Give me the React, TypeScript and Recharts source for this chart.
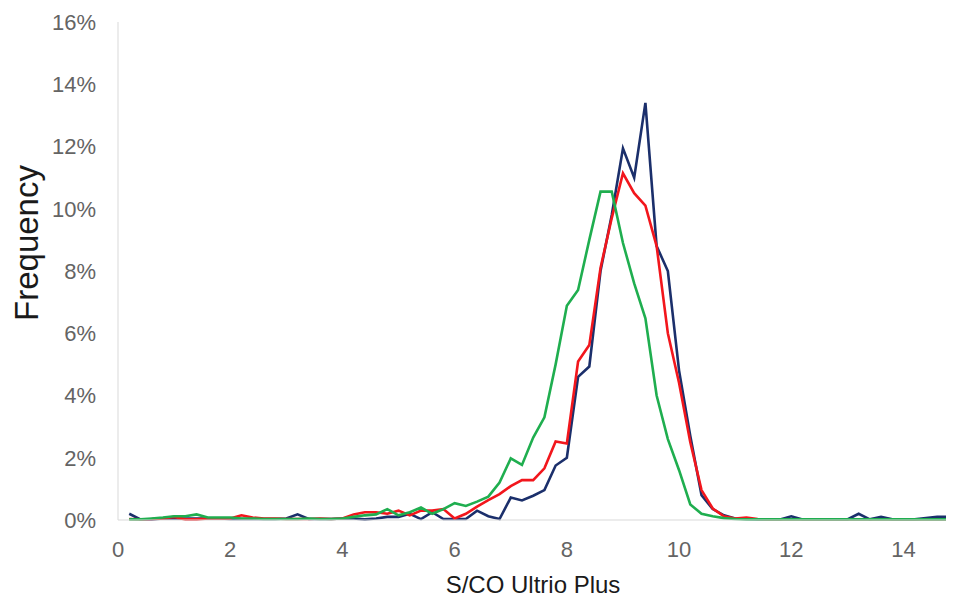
import React from 'react';
import { LineChart, Line, XAxis, YAxis, Label } from 'recharts';

// S/CO bin centres (step 0.2)
const scoBins = [
  0.2, 0.4, 0.6, 0.8, 1.0, 1.2, 1.4, 1.6, 1.8, 2.0,
  2.2, 2.4, 2.6, 2.8, 3.0, 3.2, 3.4, 3.6, 3.8, 4.0,
  4.2, 4.4, 4.6, 4.8, 5.0, 5.2, 5.4, 5.6, 5.8, 6.0,
  6.2, 6.4, 6.6, 6.8, 7.0, 7.2, 7.4, 7.6, 7.8, 8.0,
  8.2, 8.4, 8.6, 8.8, 9.0, 9.2, 9.4, 9.6, 9.8, 10.0,
  10.2, 10.4, 10.6, 10.8, 11.0, 11.2, 11.4, 11.6, 11.8, 12.0,
  12.2, 12.4, 12.6, 12.8, 13.0, 13.2, 13.4, 13.6, 13.8, 14.0,
  14.2, 14.4, 14.6, 14.8,
];

// Frequency (%) per bin
const navySeries = [
  0.20, 0.02, 0.02, 0.05, 0.05, 0.05, 0.05, 0.05, 0.05, 0.03,
  0.03, 0.03, 0.03, 0.03, 0.05, 0.18, 0.03, 0.03, 0.03, 0.05,
  0.05, 0.02, 0.05, 0.10, 0.10, 0.20, 0.03, 0.25, 0.03, 0.03,
  0.03, 0.30, 0.12, 0.03, 0.72, 0.63, 0.78, 0.96, 1.75, 2.00,
  4.60, 4.93, 8.00, 9.80, 11.94, 11.00, 13.40, 8.80, 8.00, 4.80,
  2.70, 0.80, 0.35, 0.15, 0.05, 0.03, 0.02, 0.02, 0.02, 0.12,
  0.02, 0.02, 0.02, 0.02, 0.02, 0.20, 0.02, 0.10, 0.02, 0.02,
  0.02, 0.06, 0.10, 0.10,
];

const redSeries = [
  0.03, 0.02, 0.03, 0.05, 0.10, 0.02, 0.02, 0.05, 0.05, 0.05,
  0.15, 0.08, 0.05, 0.05, 0.03, 0.03, 0.03, 0.05, 0.03, 0.05,
  0.18, 0.25, 0.25, 0.20, 0.30, 0.15, 0.30, 0.30, 0.35, 0.05,
  0.20, 0.43, 0.64, 0.83, 1.09, 1.28, 1.28, 1.66, 2.52, 2.46,
  5.09, 5.62, 8.10, 9.70, 11.14, 10.50, 10.10, 8.80, 6.00, 4.40,
  2.50, 0.96, 0.37, 0.12, 0.05, 0.08, 0.03, 0.02, 0.02, 0.02,
  0.02, 0.02, 0.02, 0.02, 0.02, 0.02, 0.02, 0.02, 0.02, 0.02,
  0.02, 0.02, 0.02, 0.02,
];

const greenSeries = [
  0.02, 0.02, 0.05, 0.08, 0.12, 0.12, 0.18, 0.08, 0.08, 0.08,
  0.05, 0.05, 0.03, 0.03, 0.03, 0.03, 0.05, 0.03, 0.03, 0.05,
  0.10, 0.15, 0.18, 0.35, 0.15, 0.25, 0.40, 0.20, 0.35, 0.54,
  0.45, 0.59, 0.75, 1.20, 1.98, 1.77, 2.65, 3.30, 5.00, 6.88,
  7.39, 9.00, 10.55, 10.55, 8.90, 7.60, 6.48, 4.00, 2.60, 1.60,
  0.50, 0.20, 0.12, 0.06, 0.03, 0.02, 0.02, 0.02, 0.02, 0.02,
  0.02, 0.02, 0.02, 0.02, 0.02, 0.02, 0.02, 0.02, 0.02, 0.02,
  0.02, 0.02, 0.02, 0.02,
];

const xTicks = [0, 2, 4, 6, 8, 10, 12, 14];
const yTicks = [0, 2, 4, 6, 8, 10, 12, 14, 16];

const rows = scoBins.map((x, i) => ({
  x,
  navy: navySeries[i],
  red: redSeries[i],
  green: greenSeries[i],
}));

const FONT = 'Arial, "Liberation Sans", Helvetica, sans-serif';
const AXIS_GREY = '#d9d9d9';
const TICK_GREY = '#646464';

export default function App() {
  return (
    <div style={{ width: 946, height: 593, fontFamily: FONT }}>
      <LineChart
        width={946}
        height={593}
        data={rows}
        margin={{ top: 14, right: 0, bottom: 0, left: 0 }}
      >
        <XAxis
          dataKey="x"
          type="number"
          domain={[0, 14.9]}
          ticks={xTicks}
          allowDataOverflow
          height={81}
          stroke={AXIS_GREY}
          tickLine={false}
          tickMargin={15}
          tick={{ fill: TICK_GREY, fontSize: 22, fontFamily: FONT }}
        >
          <Label
            content={() => (
              <text
                x={525}
                y={585}
                textAnchor="middle"
                fill="#1a1a1a"
                fontSize={24}
                fontFamily={FONT}
              >
                S/CO Ultrio Plus
              </text>
            )}
          />
        </XAxis>
        <YAxis
          type="number"
          domain={[0, 16]}
          ticks={yTicks}
          width={110}
          stroke={AXIS_GREY}
          tickLine={false}
          tickMargin={16}
          tickFormatter={(v: number) => `${v}%`}
          tick={{ fill: TICK_GREY, fontSize: 22, fontFamily: FONT }}
        >
          <Label
            content={() => (
              <text
                x={30}
                y={235}
                transform="rotate(-90 30 235)"
                textAnchor="middle"
                fill="#1a1a1a"
                fontSize={33}
                fontFamily={FONT}
              >
                Frequency
              </text>
            )}
          />
        </YAxis>
        <Line
          dataKey="navy"
          type="linear"
          stroke="#1b2f6b"
          strokeWidth={2.6}
          dot={false}
          isAnimationActive={false}
        />
        <Line
          dataKey="red"
          type="linear"
          stroke="#f2161c"
          strokeWidth={2.6}
          dot={false}
          isAnimationActive={false}
        />
        <Line
          dataKey="green"
          type="linear"
          stroke="#1fae4f"
          strokeWidth={2.6}
          dot={false}
          isAnimationActive={false}
        />
      </LineChart>
    </div>
  );
}
